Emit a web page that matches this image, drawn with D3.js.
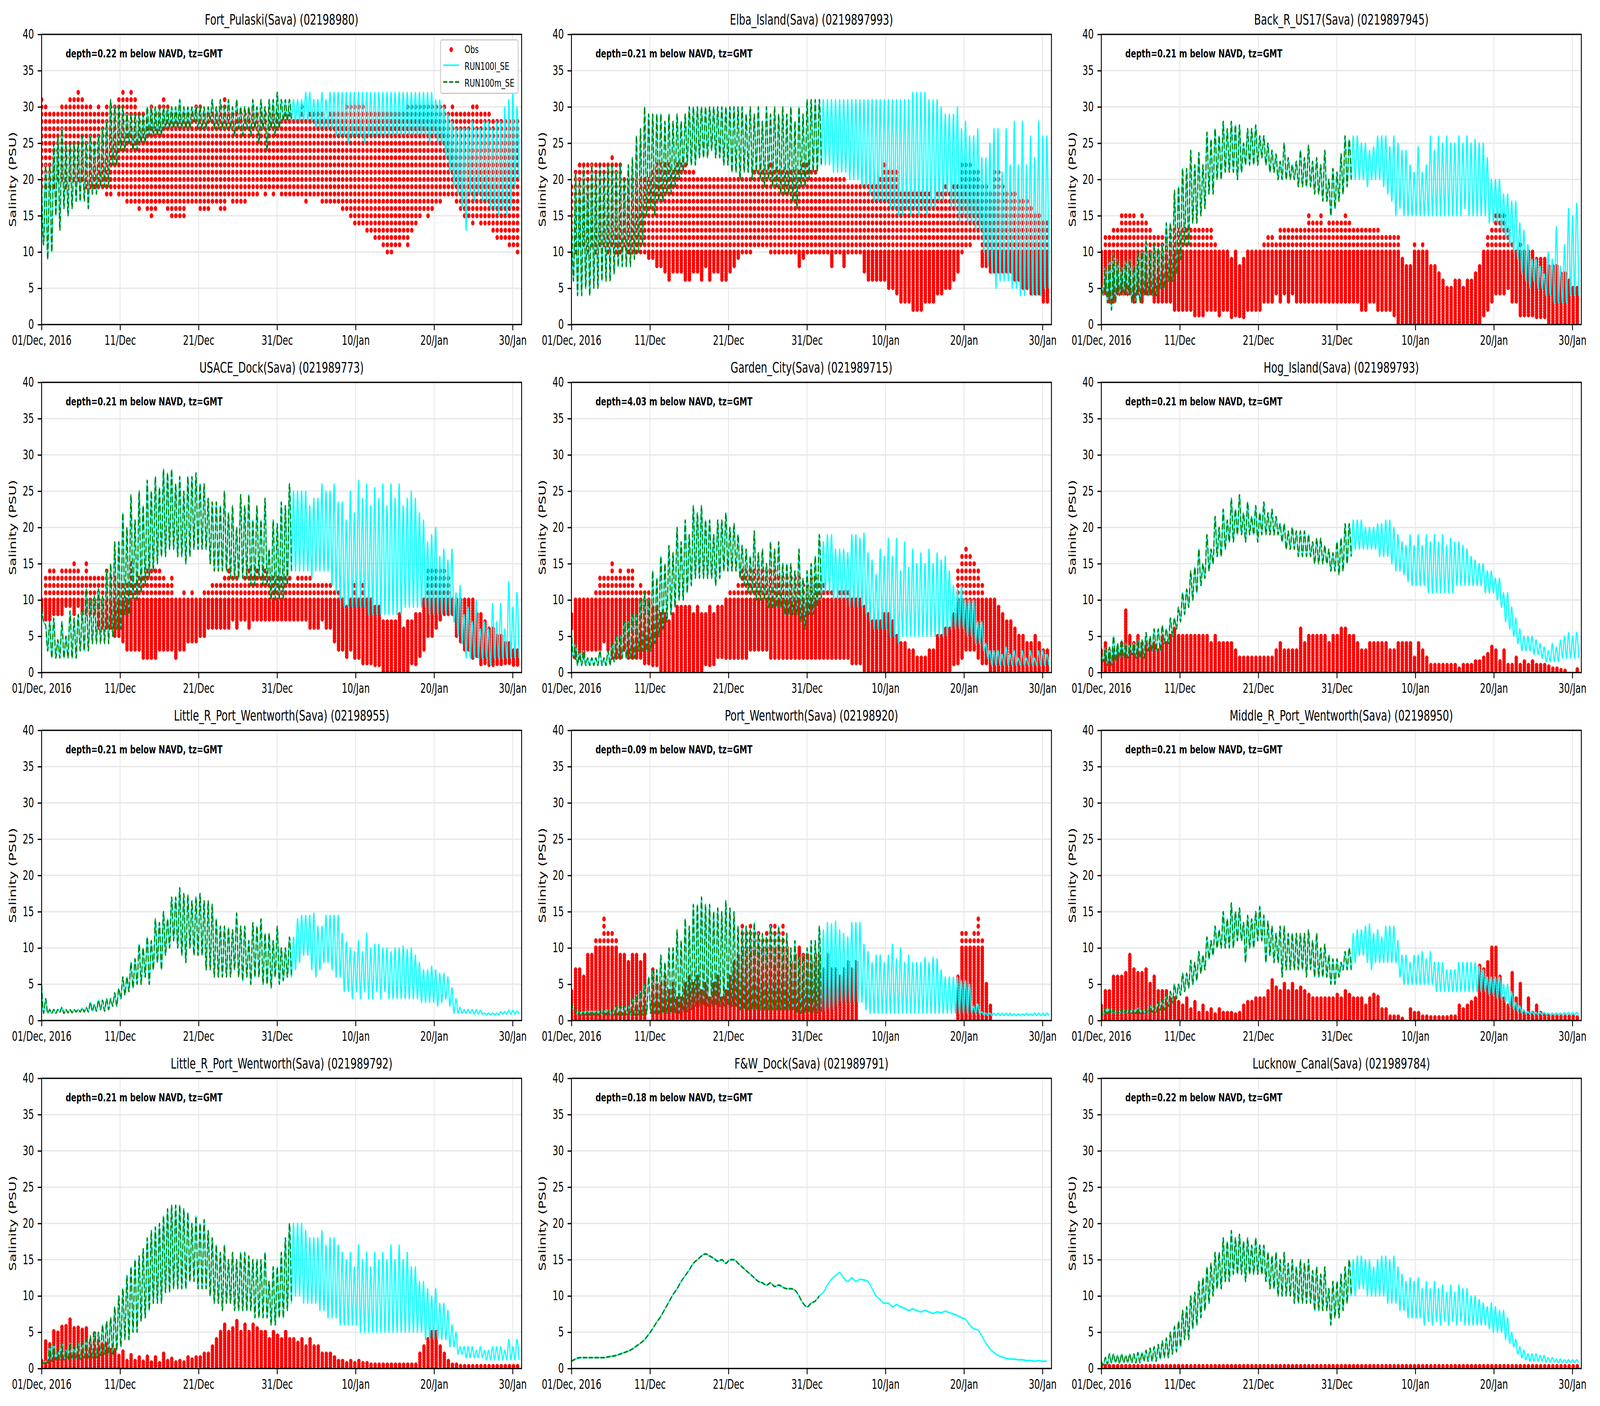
<!DOCTYPE html>
<html>
<head>
<meta charset="utf-8">
<script src="https://cdn.jsdelivr.net/npm/d3@7"></script>
<style>
  html, body { margin: 0; background: #fff; overflow: hidden; }
  text { font-family: "DejaVu Sans", sans-serif; fill: #000; }
</style>
</head>
<body>
<div id="svg-container"></div>
<script>
////////////////////////////////////////////////////////////////////
////////////////////////////  Data  ////////////////////////////////
const titles = ["Fort_Pulaski(Sava) (02198980)", "Elba_Island(Sava) (0219897993)", "Back_R_US17(Sava) (0219897945)",
  "USACE_Dock(Sava) (021989773)", "Garden_City(Sava) (021989715)", "Hog_Island(Sava) (021989793)",
  "Little_R_Port_Wentworth(Sava) (02198955)", "Port_Wentworth(Sava) (02198920)", "Middle_R_Port_Wentworth(Sava) (02198950)",
  "Little_R_Port_Wentworth(Sava) (021989792)", "F&W_Dock(Sava) (021989791)", "Lucknow_Canal(Sava) (021989784)"];
const depths = [0.22, 0.21, 0.21, 0.21, 4.03, 0.21, 0.21, 0.09, 0.21, 0.21, 0.18, 0.22];
const yTicks = [0, 5, 10, 15, 20, 25, 30, 35, 40];
const xTickDates = [Date.UTC(2016, 11, 1), Date.UTC(2016, 11, 11), Date.UTC(2016, 11, 21), Date.UTC(2016, 11, 31),
  Date.UTC(2017, 0, 10), Date.UTC(2017, 0, 20), Date.UTC(2017, 0, 30)];
const xTickLabels = ["01/Dec, 2016", "11/Dec", "21/Dec", "31/Dec", "10/Jan", "20/Jan", "30/Jan"];
const legendLabels = ["Obs", "RUN100l_SE", "RUN100m_SE"];

// Tide highs and lows, one pair per tidal cycle
const fortHigh = [20,22,22,25,26,27,25,25,25,25, 26,25,26,25,26,27,28,31,30,30, 30,29,29,29,29,29,30,30,30,30, 30,30,30,30,31,30,30,30,30,30, 30,30,31,30,31,30,31,30,31,30, 30,30,31,30,31,30,31,31,32,31, 31,31,31,31,31,32,32,31,31,32, 31,32,32,32,32,32,32,32,32,32, 32,32,32,32,32,32,32,32,32,32, 32,32,32,32,32,32,32,31,31,30, 29,28,27,27,27,27,28,27,27,28, 28,27,28,28,30,31,32,30];
const fortLow = [11,9,10,15,13,16,15,16,17,17, 17,16,18,18,19,19,19,22,22,24, 24,25,24,24,25,25,26,26,26,26, 27,27,27,27,27,27,27,28,27,27, 27,28,27,27,27,27,27,26,27,26, 27,26,27,25,27,24,27,26,27,28, 28,28,28,28,28,28,28,27,27,27, 27,27,26,26,26,25,26,26,26,25, 26,26,26,26,26,26,26,26,26,26, 26,26,26,26,26,25,26,25,25,23, 21,19,18,16,13,18,17,18,17,17, 16,16,15,16,15,16,19,20];
const fortObsHigh = [31,30,29,29,29,30,30,31,31,32, 31,30,30,29,30,29,30,30,30,31, 32,31,32,31,29,29,28,30,29,30, 31,30,29,29,29,29,29,29,30,30, 29,29,29,29,30,31,29,29,29,29, 29,29,29,29,29,29,29,29,29,28, 29,29,28,28,30,28,29,29,29,29, 28,29,29,29,29,30,30,30,30,30, 29,29,29,29,29,29,29,29,29,29, 30,30,30,30,30,30,30,30,30,30, 29,30,29,29,29,29,30,30,29,29, 29,28,28,28,28,28,28,28];
const fortObsLow = [19,19,19,19,20,20,19,20,20,20, 20,19,19,19,19,19,18,18,19,18, 18,17,17,17,16,17,16,15,16,17, 17,16,15,15,15,15,17,17,17,16, 16,16,17,17,16,16,18,17,17,17, 17,18,18,18,19,18,19,18,19,18, 18,18,18,18,18,17,18,18,18,17, 17,17,17,17,16,16,15,14,14,14, 13,13,12,12,11,10,10,11,11,12, 11,13,14,15,16,15,16,17,17,18, 18,18,17,16,15,15,14,15,14,14, 14,13,12,12,12,11,11,10];

const elbaHigh = [16,21,20,22,20,22,21,22,21,22, 22,21,22,20,22,23,26,27,30,29, 29,29,29,28,29,28,29,28,29,30, 30,30,30,30,30,30,30,30,30,30, 30,30,30,29,30,29,30,28,30,29, 30,29,30,29,30,28,30,29,31,31, 31,31,31,31,31,31,31,31,31,31, 31,31,31,31,31,31,31,31,31,31, 31,31,31,31,32,32,32,32,31,31, 31,30,29,29,29,30,27,28,26,26, 27,23,23,25,27,27,21,27,22,28, 22,28,22,26,23,28,26,26];
const elbaLow = [6,4,4,5,4,5,5,6,6,6, 7,8,8,8,8,9,10,11,15,16, 15,17,17,18,18,19,20,21,22,22, 22,23,23,23,24,23,23,22,22,21, 21,20,21,21,20,21,20,19,20,19, 19,18,18,18,17,16,19,19,20,21, 21,22,22,22,21,21,21,21,20,20, 20,19,19,18,17,17,17,17,16,16, 15,15,16,15,16,15,16,15,16,16, 17,17,18,16,16,14,15,14,14,13, 13,10,8,7,5,6,6,6,5,5, 4,4,5,4,4,4,5,5];
const elbaObsHigh = [19,21,22,22,22,22,22,22,22,22, 23,22,22,20,20,20,20,20,20,20, 21,22,22,22,22,21,22,22,22,21, 21,20,20,20,20,20,20,20,20,20, 20,20,20,20,20,21,21,21,21,22, 21,21,21,21,21,21,21,22,22,21, 21,20,20,20,20,20,20,20,19,19, 19,19,19,19,19,19,20,22,21,21, 21,18,18,18,18,18,18,18,18,17, 18,18,19,18,19,19,22,22,22,21, 21,19,19,18,21,21,19,18,18,18, 17,17,17,16,15,15,14,14];
const elbaObsLow = [10,10,11,11,10,11,10,11,11,10, 11,10,10,11,10,10,10,10,10,9, 9,8,8,7,6,7,7,7,6,6, 7,7,6,8,6,7,7,6,6,7, 8,9,10,10,10,11,11,11,11,10, 10,10,10,10,10,10,8,9,10,10, 10,10,10,10,8,10,10,8,10,10, 10,10,7,6,6,6,6,6,5,5, 4,3,3,3,2,2,2,3,3,3, 4,4,5,5,6,7,10,11,11,12, 12,8,8,7,7,7,7,7,7,6, 6,5,5,4,4,4,3,3];

const backHigh = [6,8,9,10,9,8,9,9,8,10, 10,11.5,10,11,10.5,11,14,14,18.5,19, 21.5,21.5,24,22,23.7,22,26.5,25.5,27,26, 28,27,28,27.5,27.5,25,27,27,27.5,26, 26,25,24,23.5,22.5,25,23,22,22.5,24, 23,24.7,22.5,23,22,24,20,21.5,21,23.5, 26,25.5,26,26,25,25,24,24.5,26,26, 26,24.5,26,25,24,24,22,21,24.5,21, 22,26,24,26,25,26,25,25,26,25, 26,25,25.5,25,25,23,20,20,20,18, 18,17,17,14,13,11,9,9,8,7, 10,9,13.5,8,11,16,15,16.7];
const backLow = [4,3,2,3,4,4,4,3,3,3, 4,4,4,4,5,5,6,6,7,9, 11,11,14,14,15,16,18,18,20,20, 21,21,21,20,21,22,22,22,22,23, 22,21,21,20,20,20,20,20,19,19, 19,19,18,18,17,17,15,16,17,18, 19,20,20,20,20,19,20,20,20,19, 18,17,15,16,15,15,15,15,15,15, 15,15,15,15,15,15,15,15,15,16, 15,15,15,15,15,14,14,14,13,12, 11,10,9,7,6,5,6,5,5,4, 4,3,3,3,3,4,4,4];
const backObsHigh = [10,12,12,13,13,15,15,15,15,14, 15,14,13,12,12,12,12,13,13,13, 13,13,13,13,13,13,13,13,11,10, 10,10,9,10,8,9,10,10,10,10, 11,12,12,11,13,13,13,13,13,13, 13,15,14,14,15,13,14,14,14,14, 15,14,13,13,13,13,13,13,13,12, 12,12,12,12,9,8,8,11,10,11, 10,8,8,7,6,5,5,6,6,5, 6,6,7,8,10,12,13,15,15,15, 13,11,10,11,10,10,10,9,9,9, 8,8,8,7,7,6,5,5];
const backObsLow = [5,4,3,3,4,4,4,4,3,4, 3,4,4,3,3,3,3,3,2,2, 2,2,2,1,1,1,2,2,2,1, 2,2,1,1,1,1,2,2,2,2, 3,3,3,4,3,4,3,4,3,3, 3,3,3,3,3,3,3,3,3,3, 3,3,3,3,2,2,3,3,2,2, 2,2,1,0,0,0,0,0,0,0, 0,0,0,0,0,0,0,0,0,0, 0,0,0,0,1,2,3,4,4,4, 5,3,3,1,1,1,1,1,1,1, 0,0,0,0,0,0,0,0];

const usaceHigh = [9,6.5,7,7.5,4.5,7,5,8.5,7.5,8, 8.5,11.5,10,10.5,11.5,10.5,14,15,18,18, 22,20,24.5,21,25,23,26.5,25,27,25.5, 28,27.5,28,26,27,25,27,27,27.5,26, 26,24,23.5,23.5,23,25,22,23,20,24.5, 23,24.5,21,23,21,24,17,21,20.5,23.5, 23,26,25,25,25,25,23,24,24,26, 25,25,26,23.5,23.5,21,25,22,26.5,24, 26,23,25.5,24,26,23,26,24,26,23, 24,25,24,22,21,18,19,20,16,17, 15.5,17,11,12,8,9,7,10,6,7, 6,9.5,7,9.5,6,12.5,9,11];
const usaceLow = [7,3,2,2,2,2,2,2,2,3, 3,3,4,4,4,4,4,5,6,6, 8,8,10,10,11,12,13,14,15,16, 16,17,17,16,16,15,16,17,17,17, 17,15,14,14,14,14,13,13,13,13, 13,12,12,13,12,12,10,10,10,10, 12,14,14,14,14,14,13,14,14,14, 14,12,11,10,9,9,9,9,9,9, 8,8,8,8,8,8,8,8,8,9, 9,9,9,9,9,8,8,8,8,8, 8,7,5,4,2,2,2,2,2,2, 1,2,2,2,2,2,2,2];
const usaceObsHigh = [10,13,14,14,13,14,14,14,15,14, 13,15,13,13,13,13,14,13,13,12, 12,12,15,12,13,13,14,14,14,14, 13,12,13,10,10,11,10,11,10,10, 11,11,12,12,12,13,14,13,13,12, 13,14,13,14,13,14,13,13,13,13, 13,13,12,13,13,13,13,12,12,12, 12,12,11,11,10,9,10,12,10,12, 10,10,9,9,7,7,7,7,8,6, 7,7,8,8,10,14,14,14,14,14, 13,10,10,10,10,10,10,8,8,7, 6,6,5,5,4,4,3,3];
const usaceObsLow = [8,7,7,8,8,8,9,9,8,9, 8,8,8,8,6,6,6,6,5,5, 4,3,3,3,3,2,2,2,2,3, 3,3,3,2,3,3,4,4,4,5, 5,6,6,6,6,6,6,7,6,7, 7,6,7,7,7,7,7,7,7,7, 7,7,7,7,7,7,6,6,6,7, 6,6,4,3,3,2,3,2,2,1, 1,1,1,1,0,0,0,0,0,0, 0,1,1,2,3,5,5,6,7,8, 8,8,5,4,3,3,2,2,1,1, 1,1,1,1,1,1,1,1];

const gardenHigh = [6,4,3,3,2,2,2,3,2,3, 4,5,5,7,7,8,8,10,11,10, 14,13,16,15,17.5,16.5,20,18,21,19, 23,22,23,21,21,19,21,21,22,20, 20.5,19,17.5,17,16,19.5,16.5,17,15,18, 17,18,15,15,15,14,17,13,14,15, 16,19,18,19,19,17,17,17,16.5,19, 19,18.5,19.2,16.5,15.5,13.5,17,16,18.5,16, 18.5,14,18,14.5,17,15,16.5,15,17,15, 16.5,15.5,16,14,12,11.5,12,10,10,10, 7,7,4,3,3,3,2.5,3.5,2.5,3, 2,3,2,3,2,3,3,2.5];
const gardenLow = [2,1,1,1,1,1,1,1,1,1, 1.5,2,2,2,2,2,3,3,3,3, 4,5,6,7,8,9,10,10,11,12, 13,13,13,13,13,12,13,14,14,14, 14,13,12,11,11,10,10,10,9,9, 9,9,8,8,8,8,7,6,8,8, 9,10,11,11,10,10,10,10,9,9, 9,9,8,7,6,6,6,6,5,5, 4,5,5,5,5,5,5,5,5,5, 5,5,5,6,6,6,6,5,5,4, 4,3,2,1,1,1,1,1,1,1, 1,1,1,1,1,1,1,1];
const gardenObsHigh = [8,10,10,10,10,10,11,13,13,13, 15,13,14,13,14,14,11,12,11,11, 9,9,8,8,7,8,9,9,9,9, 8,9,8,8,9,8,9,9,10,11, 11,12,14,14,14,14,14,14,14,14, 14,13,13,13,13,13,13,12,12,13, 13,12,12,11,11,10,11,11,11,10, 10,10,9,8,7,7,7,8,8,7, 5,4,4,3,3,2,2,2,3,3, 5,5,6,6,8,14,16,17,16,15, 14,12,10,10,10,9,8,7,7,6, 5,5,4,4,5,4,3,3];
const gardenObsLow = [6,2,2,2,3,3,3,3,4,3, 2,2,2,3,2,2,2,2,1,1, 1,1,0,0,0,0,0,0,0,0, 0,0,0,1,1,1,2,2,2,2, 2,2,2,2,3,3,3,3,3,2, 2,2,2,2,2,2,2,2,2,2, 2,2,2,2,2,2,2,2,2,1, 1,1,0,0,0,0,0,0,0,0, 0,0,0,0,0,0,0,0,0,0, 0,0,0,0,1,1,2,3,3,3, 2,1,1,0,0,0,0,0,0,0, 0,0,0,0,0,0,0,0];

const hogHigh = [3,3.5,3.5,5,4,4.5,4,4,4,4.5, 4.5,5.5,5,6,6,6.5,6,7.5,7.5,9, 11,11.5,14,14.5,17,15,19,17,21.5,20, 22.5,21,24,22.5,24.5,22,23.5,21.5,23,22, 23.5,22,22.5,21.5,20.5,20.5,19.5,20,19.5,19.5, 19.5,19,18,18.5,18.5,17.5,17,16.5,18,18.5, 20.5,20.5,21,21,21,20,20,20,20.5,20.5, 21,21,20,19,18,17.5,19,17.5,19,17.5, 19,18,19,18,19,17.5,18.5,18,18,17.5, 17,16,15.5,15,15,14,14,13,13,11, 11,9,7.5,6,5,5,5,4.5,4,3.5, 3,4,3.5,4.5,5,5.5,5,5.5];
const hogLow = [1.5,1,1,1.5,2,2,2,2.5,2,2, 2,3,3,3,3,4,4,5,6,7, 8,9,10,11,12,13,14,15,16,16, 17,18,18,19,19,18,19,19,18,19, 19,19,19,19,18,17,17,17,16,16, 16,16,15,15,15,15,14,14,13.5,14, 15,16,17,17,17,17,17,17,16,16, 16,15,14,14,13.5,12.5,12,12,12,12, 11,11,11,11,11,11,11,12,12,12, 12,12,12,12,11,11,11,10,9,7, 6,5,4,3,3,3,2.5,2.5,2,1.5, 1.5,1.5,1.5,2,2,2,2,2];
const hogObsHigh = [3,4,3,3,3,4,8.5,5,4,5, 4,4,4,4,3,5,4,5,6,5, 5,5,5,5,5,5,5,4,5,4, 4,4,4,3,2,2,2,2,2,2, 2,2,2,3,4,3,3,3,3,6, 4,5,5,5,5,5,4,5,5,6, 6,5,5,4,3,3,4,4,4,4, 4,3,3,4,4,4,4,2,4,3, 2,1,1,1,1,1,1,1,0.5,1, 1,1,1.5,1.5,2,2.5,3.5,3,1.5,3, 1,1,2,1,1.5,1,1.5,1,1,1, 0.8,0.5,0.5,0.3,0.2,0,0,0.4];

const littleHigh = [5,3,1.5,1.5,1.5,1.8,1.5,1.5,1.5,1.5, 1.7,1.8,2.5,2.2,2.8,2.8,3,3,3.8,4.4, 6,6,8,8.5,10.5,10,11.5,11,14,13.5, 15,14,17,17,18.3,17.5,17.3,16.5,17,17.5, 16.5,16.5,16,14,13,13,12.8,12.5,14.8,13, 13,11,13.5,13,14,12,12,11,13,10, 10,11.5,11.5,14,14.5,14.5,14.5,14.8,13,13, 14.5,14.5,14.5,14.5,12,10.8,10,9.5,11,9.5, 12,10,10.5,10.5,10,10,9.5,10,10,10.3, 9.8,10,9,8,7,7,7.5,7,6.5,6.5, 6,4.5,3,1.8,1.5,1.5,1.5,1.5,1.4,1, 1,1,1,1.2,1.2,1.4,1.4,1.3];
const littleLow = [1,1,1,1,1.2,1,1.1,1.1,1.2,1.2, 1.2,1.2,1.3,1.3,1.5,1.3,1.5,2,2,3, 3.5,4,4.5,5,5,6,5,7,8,7, 9,10,11,10,9,8,10,9,9,9, 7,7,6,6,6,6,6,7,6,5.5, 6,5,6,6,5,5,4.5,6,5,5.5, 6,6,7,8,9,9,7,6,7,8, 8,7,6,6,4,4,3,4,3,4, 3,3,4,3,4,3,3,3,3,3, 3,3,3,2.5,2.5,2.5,2.5,2,2.5,3, 2,1,1,1,1,1,0.9,0.9,0.9,0.8, 0.8,0.8,0.8,0.9,0.9,0.9,0.9,0.9];

const portHigh = [2.5,1.5,1.3,1.3,1.3,1.3,1.3,1.5,1.5,1.5, 1.5,2,2,2,2,3,3.5,4,5,6, 7,7,9,8,10,10,12.5,11,14,13, 16,16,17,16,16,15,15.5,15,16.5,15.5, 15,13,12.5,13,12.5,13.5,12,12,11.5,13, 12,13,11.5,12,10,11,9,9,10,11, 11,13,12.5,13.5,13.3,13.7,12.5,12,11.5,13.5, 13.5,13.5,10.5,9.5,8,9,9,8,9,10.5, 8.5,10,8,9,8,8,8,8.7,8,8.7, 8.5,7,6,6,6,6,5.5,5.5,5,2, 2.3,1.2,1,1,1,1,1,1,1,0.9, 0.9,0.9,1,0.9,1,1,1,1];
const portLow = [1.5,0.8,0.8,0.8,0.8,0.8,0.8,0.8,0.8,0.8, 0.8,0.8,0.8,0.8,0.8,0.8,0.8,0.8,0.9,1, 1,1,1,1,1,1,1,1.2,1.2,1.5, 2,2,2,2,2,2,2,2,2,2, 2,1.5,1.5,1.5,1.5,1.5,1.5,1.5,1.5,1.5, 1.5,1.5,1.5,1.5,1.5,1,1,1,1,1, 1,1.2,1.2,1.5,1.5,2,2.5,2.5,2.5,2.5, 2.5,2.5,1.5,1,1,1,1,1,1,1, 1,1,1,1,1,1,1,1,1,1, 1,1,1,1,1,1,1,1,1,1, 0.9,0.8,0.7,0.7,0.7,0.7,0.7,0.7,0.7,0.7, 0.7,0.7,0.7,0.7,0.7,0.7,0.7,0.7];
const portObsHigh = [4,7,7,6,9,9,11,11,14,12, 12,11,9,9,8,9,9,8,9,0, 7,5,5,6,4,5,3,3,5,6, 5,6,4,5,3,5,6,3,4,6, 8,9,13,12,13,12,12,11,12,13, 13,12,13,10,8,9,10,9,9,8, 9,9,7,9,7,7,6,7,8,7, 8,0,0,0,0,0,0,0,0,0, 0,0,0,0,0,0,0,0,0,0, 0,0,0,0,0,6,12,12,11,12, 14,11,5,2,0,0,0,0,0,0, 0,0,0,0,0,0,0,0];

const middleHigh = [1.5,1.7,1.7,1.5,1.3,1.5,1.5,1.5,1.5,1.7, 1.5,1.5,2,2,2.5,2.8,3.5,4,5,5, 6.5,6.5,8.3,8,9.5,9,11.5,11,13,12.5, 15,14,16.2,15,15.5,13.5,14.5,14,15,15.7, 14.5,13.7,13,12,13,13,12,12,12,12, 12,12.5,11,12,10,10.5,9,8.5,8.5,8, 9.5,10,12,12.5,12.5,13,13.3,12,12.5,11.5, 13,13,13,11,9,9,8,9,9,9.5, 8.5,9.5,8,8,8,7,7,7,8,8, 8,8,8,7.5,7,6,6,6,6,5, 5,4,2.5,2,1.5,1.2,1.2,1.1,1.1,1.1, 1,1,1,1,1.1,1.1,1.1,1.1];
const middleLow = [0.8,0.9,1,1,1,1,1,1,1,1, 1,1,1.2,1.2,1.5,1.5,2,2.5,3,3.5, 4,4.5,5,5.5,6.5,7,8.5,9,10,10, 10,10,10,11,11,8,10,10,11,11, 8,9,8,8,6,7,7,7,7,7, 6,7,6,6,6,6,5,5,6,7, 7,7,8,9,9,8,7,8,8,8, 8,8,8,6,5,5,5,5,5,5, 5,5,4,4,4,4,4,4,4,4, 4,4,4,4,4,3.5,3.5,3,3,2.5, 2,1.5,1.2,1,0.9,0.9,0.8,0.8,0.8,0.8, 0.8,0.8,0.8,0.8,0.8,0.8,0.8,0.8];
const middleObsHigh = [2,4,4,6,6,6,6.5,9,7,6.5, 6.5,7,5,6,4,4,4,3,3,2.5, 2,3,1.5,2.5,1,2,1,1.5,0.8,1.5, 1,1,1,0.8,1,2,2.5,2.5,3,3, 3,4,5.5,4.5,4,5,4,5,4,4.5, 4,3.5,3,3,3,3,3,3,3.5,3, 4,3.5,3,3,3,2,3,3.5,3.2,1.5, 1.5,0.5,0.5,0.5,0.2,0,1.5,1,1,0.5, 0.5,0.4,0.4,0.4,0.4,0.4,0.5,0.5,2,1.5, 2,2.5,3,7.5,7,8,10,10,6,3, 2,6.5,3,5,1,3,1,2,1,0.7, 0.7,0.5,0.5,0.5,0.5,0.5,0.5,0.4];

const little2High = [1,1,3.2,3.5,2.5,3.5,2.5,3.5,3,3.5, 3.5,4,4.5,5,5,6,6.5,7,8.5,10, 11,12.8,14,15,15.5,16.5,18,19,19.5,20, 21,22,22.5,22.5,22.5,22,21.5,20,21,20, 20.5,19,18,17,16,17,15,16,15,16, 16,15.5,15,15,15,16,12,14,14,16, 18,20,20,20,20,19,18,18,18,19, 17,18,18,17,16,15,16,14,17,15, 16,14,16,15,16,15,17,15,17,15, 16,14,14,12,12,11,10,11,9,9, 8,6,5,3,3,3,3,2.5,3,2.5, 2.5,3,3,3,2.5,4,3,4];
const little2Low = [0.7,0.8,1,1.2,1.2,1.2,1.2,1.3,1.3,1.3, 1.5,1.5,1.5,1.5,1.8,2,2,2,2.5,3, 4,4,5,5,6.5,7,8,9,9,9, 10.5,10.5,11,11,11,11,12,12,11,11, 11,10,9,9,8,9,9,8,8,8, 8,8,7,7,7,7,6,6,7,7, 8,9,10,10,9,9,9,9,8,8, 7,7,7,6,6,6,6,6,5,5, 5,5,5,5,5,5,5,5,5,5, 5,5,5,5,4,4,4,4,4,4, 3,3,2,2,1.5,1.5,1.5,1.5,1.5,1.2, 1.2,1.2,1.2,1.2,1.2,1.2,1.2,1.2];
const little2ObsHigh = [1,3.7,3.3,5.1,4.9,5.7,5.8,6.7,5.5,5.6, 5.3,5.5,3.5,4.8,3.7,3.3,3.3,2.5,2.5,1.7, 2.3,1,1.8,1,1.5,0.9,1.6,0.8,1.5,0.7, 2,1,1.3,0.8,1,0.8,1.5,1.2,1.5,1.5, 2,2,3,4,5,6,5,5.5,6.5,5, 6,5,6,5.5,5,5,4,5,4.5,4, 5,4,4,3.5,4,3,4,3,3,2, 2,2,1.5,1,1,0.7,1,0.7,1,0.7, 0.7,0.5,0.5,0.5,0.5,0.5,0.5,0.5,0.5,0.5, 0.5,0.5,0.5,2,3,4,5,5,3,2, 1,0.5,0.5,0.3,0.3,0.3,0.3,0.3,0.3,0.3, 0.3,0.3,0.3,0.3,0.3,0.3,0.3,0.3];

// F&W barely shows a tide, so one level per cycle is enough
const fwLevel = [1,1.3,1.5,1.5,1.5,1.5,1.5,1.5,1.5,1.6, 1.7,1.8,2,2.2,2.4,2.7,3.1,3.5,4,4.7, 5.5,6.4,7.2,8.2,9.2,10.2,11,12,12.8,13.6, 14.5,15,15.5,15.8,15.5,15.2,14.8,15,14.5,15, 15,14.5,14,13.5,13,12.5,12,11.8,11.5,11.8, 11.3,11.5,11.2,11,11,10.8,10,9,8.5,9, 9.3,10,10.5,11.5,12.3,12.8,13.2,12.5,12,12.5, 12,12.3,12.2,12,11,10,9.5,9,9,8.5, 8.8,8.5,8.3,8,8.2,8,7.8,8,7.8,7.6, 7.8,7.7,7.9,7.7,7.5,7.3,7,6.8,6,5.5, 5.3,4.5,3.5,2.7,2.2,1.8,1.6,1.4,1.3,1.3, 1.2,1.2,1.1,1.1,1,1.1,1,1];

const lucknowHigh = [1,1.5,2,2,1.8,2,1.8,2,2,2.2, 2.2,2.5,2.8,3,3.3,3.8,4.2,5,5.8,6.5, 8,8.5,10,10.5,12,12.5,14,14.5,16,16, 18,17.5,19,18,18.5,17.5,18,17,18,17, 17,16,15.5,16,15,16,14.5,15,14,15, 14.5,15,13.5,14,13,14,11,12,12,13, 14,15,15,15.5,15.5,15,15,14,15,15.5, 15.5,15,15.5,14,13,12,12.5,12,12.5,11, 12,11,12,11,11.5,10.5,11.5,10.5,11.5,11, 11,10,10,9.5,9,8.5,9,8.5,8,8, 7,5,4,3,2.5,2,2,2,1.8,1.8, 1.5,1.5,1.3,1.3,1.2,1.2,1.2,1.2];
const lucknowLow = [0.5,0.6,0.8,0.8,0.7,0.8,0.8,0.8,0.8,0.8, 1,1,1,1,1.3,1.5,1.5,2,2.3,3, 4,4,5.5,6,7,8,9,10,11,11, 12,12,13,13,13,12,13,13,13,13, 12,11,11,10,10,10,10,9,9,9, 9,9,8,8,8,8,6,7,7,8, 9,10,10,11,11,10,10,10,10,10, 9,9,9,8,8,7,7,7,7,6, 6.5,6,6.5,6,6.5,6,6.5,6,6.5,6, 6,6,6,6,6,5.5,5,5,5,4, 3.5,3,2,1.5,1.2,1,1,1,1,0.9, 0.9,0.9,0.8,0.8,0.8,0.8,0.8,0.8];
const lucknowObsHigh = [.3,.3,.3,.3,.3,.3,.3,.3,.3,.3, .3,.3,.3,.3,.3,.3,.3,.3,.3,.3, .3,.3,.3,.3,.3,.3,.3,.3,.3,.3, .3,.3,.3,.3,.3,.3,.3,.3,.3,.3, .3,.3,.3,.3,.3,.3,.3,.3,.3,.3, .3,.3,.3,.3,.3,.3,.3,.3,.3,.3, .3,.3,.3,.3,.3,.3,.3,.3,.3,.3, .3,.3,.3,.3,.3,.3,.3,.3,.3,.3, .3,.3,.3,.3,.3,.3,.3,.3,.3,.3, .3,.3,.3,.3,.3,.3,.3,.3,.3,.3, .3,.3,.3,.3,.3,.3,.3,.3,.3,.3, .3,.3,.3,.3,.3,.3,.3,.3];

const highSeries = [fortHigh, elbaHigh, backHigh, usaceHigh, gardenHigh, hogHigh, littleHigh, portHigh, middleHigh, little2High, fwLevel, lucknowHigh];
const lowSeries = [fortLow, elbaLow, backLow, usaceLow, gardenLow, hogLow, littleLow, portLow, middleLow, little2Low, null, lucknowLow];
const obsHighSeries = [fortObsHigh, elbaObsHigh, backObsHigh, usaceObsHigh, gardenObsHigh, hogObsHigh, null, portObsHigh, middleObsHigh, little2ObsHigh, null, lucknowObsHigh];
const obsLowSeries = [fortObsLow, elbaObsLow, backObsLow, usaceObsLow, gardenObsLow, null, null, null, null, null, null, null];
const obsSolidBelow = [0, 10, 10, 10, 10, 10, 10, 10, 10, 10, 10, 10]; // coarse 1 PSU dots only above this level

////////////////////////////////////////////////////////////////////
////////////////////////////  Init  ////////////////////////////////
const width = 6000;
const height = 3600;
const panelW = 1800;
const panelH = 743;
const lefts = [156, 2143, 4130];
const tops = [88, 979, 1870, 2761];
const lineCut = 62; // RUN100m stops after this many tide cycles (early January)
const msDay = 86400000;
const cycleMs = 0.5175 * msDay;
const t0 = Date.UTC(2016, 11, 1);

// The browser caps the window width at 4096, so the 6000x3600 layout is fitted to whatever window we get
const svg = d3.select("#svg-container").append("svg")
  .attr("viewBox", `0 0 ${width} ${height}`).attr("preserveAspectRatio", "none")
  .style("display", "block").style("width", "100vw").style("height", "100vh").style("background", "#fff");

const xScale = d3.scaleUtc().domain([t0, t0 + 61.14 * msDay]).range([0, panelW]);
const yScale = d3.scaleLinear().domain([0, 40]).range([panelH, 0]);

const lineGenerator = d3.line().x((d) => xScale(d.t)).y((d) => yScale(d.v)).curve(d3.curveMonotoneX);

// Highs sit on whole cycles, lows half way between them
function tidePoints(high, low) {
  const pts = [];
  high.forEach((v, i) => {
    pts.push({ t: t0 + i * cycleMs, v });
    if (low && low[i] !== undefined) pts.push({ t: t0 + (i + 0.5) * cycleMs, v: low[i] });
  });
  return pts;
}

////////////////////////////////////////////////////////////////////
////////////////////////////  Panels  //////////////////////////////
titles.forEach((title, p) => {
  const col = p % 3;
  const row = Math.floor(p / 3);
  const g = svg.append("g").attr("transform", `translate(${lefts[col]},${tops[row]})`);

  g.append("clipPath").attr("id", `clip-${p}`).append("rect").attr("width", panelW).attr("height", panelH);

  // grid
  g.selectAll(".grid-h").data(yTicks).join("line").attr("x1", 0).attr("x2", panelW)
    .attr("y1", (d) => yScale(d)).attr("y2", (d) => yScale(d))
    .attr("stroke", "#e7e7e7").attr("stroke-width", 3.3);
  g.selectAll(".grid-v").data(xTickDates).join("line").attr("y1", 0).attr("y2", panelH)
    .attr("x1", (d) => xScale(d)).attr("x2", (d) => xScale(d))
    .attr("stroke", "#e7e7e7").attr("stroke-width", 3.3);

  const marks = g.append("g").attr("clip-path", `url(#clip-${p})`);

  // observations: one round-capped column per tide, dotted at 1 PSU where the gauge reads whole numbers
  const obsHigh = obsHighSeries[p];
  if (obsHigh) {
    const obsLow = obsLowSeries[p];
    const obsStep = 61.14 * msDay / obsHigh.length;
    const period = yScale(0) - yScale(1);
    const solid = obsSolidBelow[p];
    const cols = obsHigh.map((hi, i) => ({ t: t0 + i * obsStep, hi, lo: obsLow ? obsLow[i] : 0 })).filter((d) => d.hi > 0);
    marks.append("g").selectAll("line").data(cols.filter((d) => d.hi > solid)).join("line")
      .attr("x1", (d) => xScale(d.t)).attr("x2", (d) => xScale(d.t))
      .attr("y1", (d) => yScale(d.hi)).attr("y2", (d) => yScale(Math.max(d.lo, solid)) + 0.5)
      .attr("stroke", "#ff0000").attr("stroke-width", 13).attr("stroke-linecap", "round")
      .attr("stroke-dasharray", `0 ${period}`);
    marks.append("g").selectAll("line").data(cols.filter((d) => d.lo < solid || d.hi <= solid)).join("line")
      .attr("x1", (d) => xScale(d.t)).attr("x2", (d) => xScale(d.t))
      .attr("y1", (d) => yScale(Math.min(d.hi, solid))).attr("y2", (d) => yScale(d.lo))
      .attr("stroke", "#ff0000").attr("stroke-width", 13).attr("stroke-linecap", "round")
      .attr("stroke-dasharray", "0 7");
  }

  const high = highSeries[p];
  const low = lowSeries[p];
  marks.append("path").attr("d", lineGenerator(tidePoints(high, low)))
    .attr("fill", "none").attr("stroke", "#00ffff").attr("stroke-width", 4.2);
  marks.append("path").attr("d", lineGenerator(tidePoints(high.slice(0, lineCut), low ? low.slice(0, lineCut) : null)))
    .attr("fill", "none").attr("stroke", "#008000").attr("stroke-width", 4.2).attr("stroke-dasharray", "15.4 6.7");

  // axes
  const xAxis = d3.axisBottom(xScale).tickValues(xTickDates).tickSize(14.6).tickPadding(14)
    .tickFormat((d, i) => xTickLabels[i]);
  const yAxis = d3.axisLeft(yScale).tickValues(yTicks).tickSize(14.6).tickPadding(14);
  [g.append("g").attr("transform", `translate(0,${panelH})`).call(xAxis), g.append("g").call(yAxis)].forEach((axis) => {
    axis.select(".domain").remove();
    axis.selectAll("line").attr("stroke", "#000").attr("stroke-width", 3.3);
    axis.selectAll("text").attr("font-size", 33.3).attr("font-family", "DejaVu Sans").attr("fill", "#000");
  });

  g.append("rect").attr("width", panelW).attr("height", panelH).attr("fill", "none")
    .attr("stroke", "#000").attr("stroke-width", 3.3);

  g.append("text").attr("x", panelW / 2).attr("y", -25).attr("text-anchor", "middle")
    .attr("font-size", 37.5).text(title);
  g.append("text").attr("transform", `translate(-96,${panelH / 2}) rotate(-90)`).attr("text-anchor", "middle")
    .attr("font-size", 36).text("Salinity (PSU)");
  g.append("text").attr("x", 90).attr("y", 59).attr("font-size", 29).attr("font-weight", "bold")
    .text(`depth=${depths[p].toFixed(2)} m below NAVD, tz=GMT`);

  if (p === 0) drawLegend(g);
});

////////////////////////////////////////////////////////////////////
////////////////////////////  Legend  //////////////////////////////
function drawLegend(g) {
  const lg = g.append("g").attr("transform", "translate(1496,14)");
  lg.append("rect").attr("width", 291).attr("height", 137).attr("rx", 7)
    .attr("fill", "#fff").attr("fill-opacity", 0.8).attr("stroke", "#cccccc").attr("stroke-width", 3.3);
  lg.append("circle").attr("cx", 40).attr("cy", 25).attr("r", 6.5).attr("fill", "#ff0000");
  lg.append("line").attr("x1", 10).attr("x2", 70).attr("y1", 65).attr("y2", 65)
    .attr("stroke", "#00ffff").attr("stroke-width", 4.2);
  lg.append("line").attr("x1", 10).attr("x2", 70).attr("y1", 108).attr("y2", 108)
    .attr("stroke", "#008000").attr("stroke-width", 4.2).attr("stroke-dasharray", "15.4 6.7");
  legendLabels.forEach((label, i) => {
    lg.append("text").attr("x", 90).attr("y", 34 + i * 43).attr("font-size", 27.4).text(label);
  });
}
</script>
</body>
</html>
